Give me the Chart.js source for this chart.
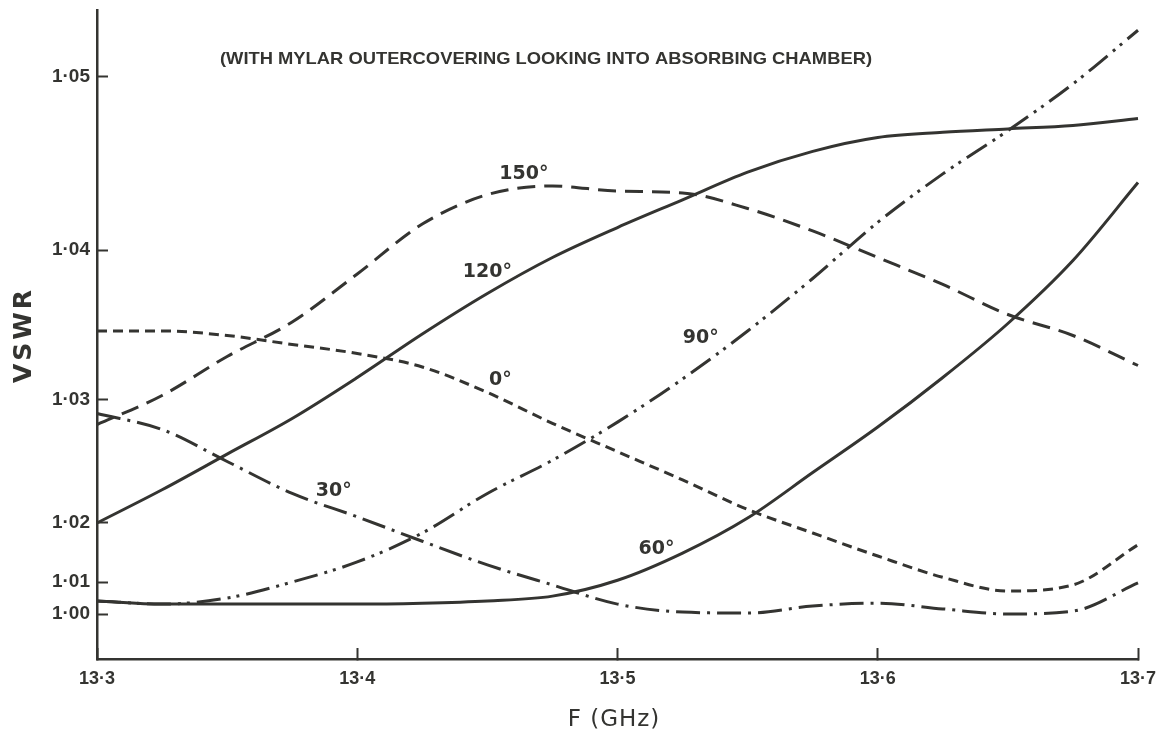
<!DOCTYPE html>
<html>
<head>
<meta charset="utf-8">
<title>VSWR vs frequency</title>
<script src="https://cdn.jsdelivr.net/npm/chart.js@4/dist/chart.umd.min.js"></script>
<style>
  html, body { margin: 0; padding: 0; background: #fff; }
  #wrap { width: 1162px; height: 738px; position: relative; }
</style>
</head>
<body>
<div id="wrap"><canvas id="chart" width="1162" height="738"></canvas></div>
<script>
/* ── values ─────────────────────────────────────────────── */
const FREQ = [13.300, 13.325, 13.350, 13.375, 13.400, 13.425, 13.450, 13.475, 13.500,
              13.525, 13.550, 13.575, 13.600, 13.625, 13.650, 13.675, 13.700];

const VSWR_0   = [1.0346, 1.0346, 1.0343, 1.0337, 1.0331, 1.0322, 1.0305, 1.0281, 1.0258,
                  1.0235, 1.0211, 1.0183, 1.0144, 1.0108, 1.0072, 1.0091, 1.0163];
const VSWR_30  = [1.0289, 1.0276, 1.0250, 1.0224, 1.0205, 1.0169, 1.0129, 1.0091, 1.0031,
                  1.0006, 1.0003, 1.0025, 1.0034, 1.0016, 1.0000, 1.0009, 1.0097];
const VSWR_60  = [1.0041, 1.0031, 1.0031, 1.0031, 1.0031, 1.0034, 1.0041, 1.0056, 1.0103,
                  1.0149, 1.0204, 1.0241, 1.0278, 1.0315, 1.0351, 1.0393, 1.0439];
const VSWR_90  = [1.0041, 1.0031, 1.0050, 1.0100, 1.0134, 1.0183, 1.0224, 1.0251, 1.0282,
                  1.0314, 1.0346, 1.0381, 1.0416, 1.0444, 1.0469, 1.0496, 1.0527];
const VSWR_120 = [1.0200, 1.0227, 1.0256, 1.0285, 1.0315, 1.0344, 1.0371, 1.0395, 1.0413,
                  1.0429, 1.0445, 1.0457, 1.0465, 1.0468, 1.0470, 1.0472, 1.0476];
const VSWR_150 = [1.0280, 1.0303, 1.0329, 1.0352, 1.0384, 1.0415, 1.0432, 1.0437, 1.0434,
                  1.0433, 1.0424, 1.0411, 1.0395, 1.0377, 1.0357, 1.0343, 1.0323];

const X_TICKS = [13.3, 13.4, 13.5, 13.6, 13.7];
const Y_TICKS = [1.00, 1.01, 1.02, 1.03, 1.04, 1.05];
// the VSWR axis is not linear: where each tick sits, as a fraction of axis height
const Y_TICK_FRAC = [0.0693, 0.1186, 0.2096, 0.3991, 0.6302, 0.8968];

// curve labels, placed in data coordinates
const CURVE_LABELS = ['150°', '120°', '90°', '0°', '30°', '60°'];
const CURVE_LABEL_F = [13.464, 13.450, 13.532, 13.455, 13.391, 13.515];
const CURVE_LABEL_V = [1.0444, 1.0385, 1.0341, 1.0313, 1.0226, 1.0156];

const INK = '#343431';

/* ── piecewise axis mapping ─────────────────────────────── */
function _segment(arr, v) {
  const n = arr.length;
  if (v <= arr[0]) return 0;
  if (v >= arr[n - 1]) return n - 2;
  let i = 0;
  while (v > arr[i + 1]) i++;
  return i;
}
function fracForValue(v) {
  const i = _segment(Y_TICKS, v);
  const t = (v - Y_TICKS[i]) / (Y_TICKS[i + 1] - Y_TICKS[i]);
  return Y_TICK_FRAC[i] + t * (Y_TICK_FRAC[i + 1] - Y_TICK_FRAC[i]);
}
function valueForFrac(f) {
  const i = _segment(Y_TICK_FRAC, f);
  const t = (f - Y_TICK_FRAC[i]) / (Y_TICK_FRAC[i + 1] - Y_TICK_FRAC[i]);
  return Y_TICKS[i] + t * (Y_TICKS[i + 1] - Y_TICKS[i]);
}

class VswrScale extends Chart.LinearScale {
  buildTicks() { return Y_TICKS.map(value => ({ value })); }
  getPixelForValue(value) { return this.getPixelForDecimal(fracForValue(value)); }
  getValueForPixel(pixel) { return valueForFrac(this.getDecimalForPixel(pixel)); }
}
VswrScale.id = 'vswr';
VswrScale.defaults = Chart.LinearScale.defaults;
Chart.register(VswrScale);

// keep the plot area fixed: no extra room for overhanging tick labels
function noScalePadding(s) {
  s.paddingTop = 0; s.paddingBottom = 0; s.paddingLeft = 0; s.paddingRight = 0;
}

/* ── text drawn on top ──────────────────────────────────── */
function fitText(ctx, text, cx, cy, font, width) {
  ctx.save();
  ctx.font = font;
  const w = ctx.measureText(text).width;
  ctx.translate(cx, cy);
  if (width) ctx.scale(width / w, 1);
  ctx.fillText(text, 0, 0);
  ctx.restore();
}

const annotations = {
  id: 'annotations',
  afterDraw(chart) {
    const { ctx, scales: { x, y } } = chart;
    ctx.save();
    ctx.fillStyle = INK;
    ctx.textAlign = 'center';
    ctx.textBaseline = 'middle';

    fitText(ctx, '(WITH MYLAR OUTERCOVERING LOOKING INTO ABSORBING CHAMBER)',
            546, 59, 'bold 17px "Liberation Sans"', 652);

    CURVE_LABELS.forEach((txt, i) => {
      fitText(ctx, txt, x.getPixelForValue(CURVE_LABEL_F[i]), y.getPixelForValue(CURVE_LABEL_V[i]),
              'bold 19px "DejaVu Sans"');
    });

    ctx.save();
    ctx.translate(24, 337);
    ctx.rotate(-Math.PI / 2);
    ctx.letterSpacing = '3px';
    ctx.font = 'bold 25px "DejaVu Sans"';
    ctx.fillText('VSWR', 2, 0);
    ctx.restore();

    ctx.letterSpacing = '1px';
    ctx.font = '23px "DejaVu Sans"';
    ctx.fillText('F (GHz)', 614, 720);
    ctx.restore();
  }
};

/* ── chart ──────────────────────────────────────────────── */
const pts = vals => FREQ.map((f, i) => ({ x: f, y: vals[i] }));

const SERIES = [
  { label: '0°',   data: VSWR_0,   dash: [10, 6] },
  { label: '30°',  data: VSWR_30,  dash: [24, 7, 3, 7] },
  { label: '60°',  data: VSWR_60,  dash: [] },
  { label: '90°',  data: VSWR_90,  dash: [24, 7, 3, 6, 3, 7] },
  { label: '120°', data: VSWR_120, dash: [] },
  { label: '150°', data: VSWR_150, dash: [18, 9] },
];

new Chart(document.getElementById('chart'), {
  type: 'line',
  data: {
    datasets: SERIES.map(s => ({
      label: s.label,
      data: pts(s.data),
      borderColor: INK,
      borderWidth: 3,
      borderDash: s.dash,
      pointRadius: 0,
      fill: false,
      cubicInterpolationMode: 'monotone',
      clip: 6,
    })),
  },
  options: {
    responsive: false,
    animation: false,
    layout: { padding: { top: 10, right: 24, left: 0, bottom: 0 } },
    plugins: { legend: { display: false }, tooltip: { enabled: false } },
    scales: {
      x: {
        type: 'linear',
        min: 13.3,
        max: 13.7,
        afterBuildTicks: s => { s.ticks = X_TICKS.map(value => ({ value })); },
        afterFit: s => { s.height = 79; noScalePadding(s); },
        border: { color: INK, width: 2.5 },
        grid: { drawOnChartArea: false, drawTicks: true, tickLength: -11, tickWidth: 2, tickColor: INK },
        ticks: {
          autoSkip: false,
          maxRotation: 0,
          padding: 20,
          color: INK,
          font: { family: 'Liberation Sans', size: 18, weight: 'bold' },
          callback: v => v.toFixed(1).replace('.', '·'),
        },
      },
      y: {
        type: 'vswr',
        min: valueForFrac(0),
        max: valueForFrac(1),
        afterFit: s => { s.width = 97; noScalePadding(s); },
        border: { color: INK, width: 2.5 },
        grid: { drawOnChartArea: false, drawTicks: true, tickLength: -11, tickWidth: 2, tickColor: INK },
        ticks: {
          autoSkip: false,
          padding: 18,
          color: INK,
          font: { family: 'Liberation Sans', size: 19, weight: 'bold' },
          callback: v => v.toFixed(2).replace('.', '·'),
        },
      },
    },
  },
  plugins: [annotations],
});
</script>
</body>
</html>
